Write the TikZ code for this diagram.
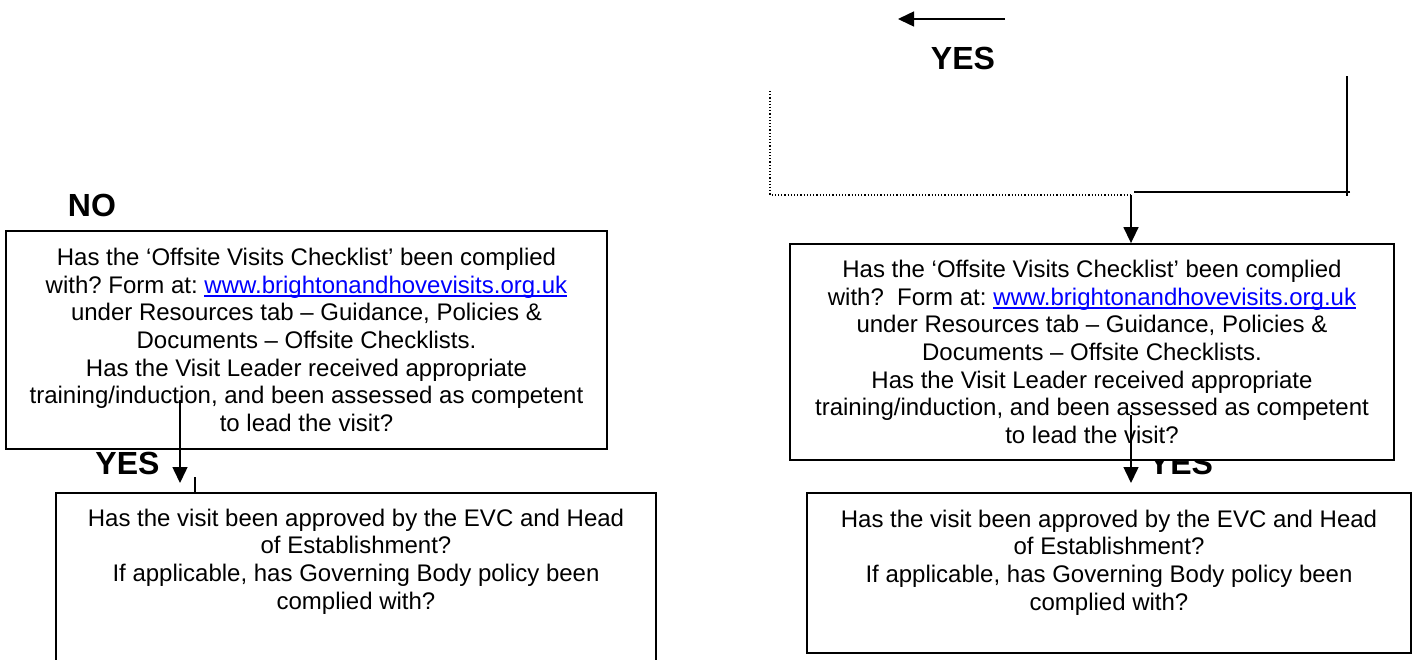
\documentclass[tikz,border=0pt]{standalone}
\usepackage{fontspec}
\setmainfont{Liberation Sans}
\usepackage{tikz}
\usetikzlibrary{arrows.meta, positioning, calc}
\usepackage{xcolor}
\definecolor{link-blue}{RGB}{0,0,255}
\newcommand{\weblink}[1]{\textcolor{link-blue}{\sbox0{#1}\rlap{\rule[-1.6pt]{\wd0}{0.6pt}}\usebox0}}
\frenchspacing

\tikzset{
	qbox/.style={draw, line width=0.9pt, fill=white, align=center, inner sep=0pt, font=\fontsize{12}{13.8}\selectfont},
	answer/.style={font=\bfseries\fontsize{16}{19}\selectfont},
	flow/.style={-{Triangle[length=8pt,width=7.5pt]}, line width=0.75pt},
}

\begin{document}
\begin{tikzpicture}[x=0.5pt, y=-0.5pt]
					\useasboundingbox (0,0) rectangle (1414,659);
					
					\node[answer] at (1181,463.5) (yesR) {YES};
					
					\node[qbox, minimum width=300.5pt, minimum height=109pt] at (306.5,340) (checkL) {Has the ‘Offsite Visits Checklist’ been complied\\ with? Form at: \weblink{www.brightonandhovevisits.org.uk}\\ under Resources tab – Guidance, Policies \&\\ Documents – Offsite Checklists.\\ Has the Visit Leader received appropriate\\ training/induction, and been assessed as competent\\ to lead the visit?};
					\node[qbox, minimum width=302pt, minimum height=108pt] at (1092,352) (checkR) {Has the ‘Offsite Visits Checklist’ been complied\\ with?\ \ Form at: \weblink{www.brightonandhovevisits.org.uk}\\ under Resources tab – Guidance, Policies \&\\ Documents – Offsite Checklists.\\ Has the Visit Leader received appropriate\\ training/induction, and been assessed as competent\\ to lead the visit?};
					
					\node[qbox, minimum width=300pt, minimum height=95.75pt] at (356,588.75) (approvalL) {Has the visit been approved by the EVC and Head\\ of Establishment?\\ If applicable, has Governing Body policy been\\ complied with?\\ \strut\\[-2pt] \strut};
					\node[qbox, minimum width=302pt, minimum height=80pt] at (1109,573) (approvalR) {Has the visit been approved by the EVC and Head\\ of Establishment?\\ If applicable, has Governing Body policy been\\ complied with?\\[-5pt] \strut};
					
					\node[answer] at (92,205.5) (noL) {NO};
					\node[answer] at (127.5,463.5) (yesL) {YES};
					\node[answer] at (963,58) (yesTop) {YES};
					
					% loop back at the top
					\coordinate (backstart) at (1005,19);
					\coordinate (backend) at (898,19);
					\draw[flow] (backstart) -- (backend);
					
					\coordinate (dottop) at (770,91);
					\coordinate (dotcorner) at (770,195);
					\coordinate (joint) at (1131,195);
					\draw[densely dotted, line width=0.6pt] (dottop) -- (dotcorner) -- (joint);
					
					\coordinate (sidetop) at (1347,76);
					\coordinate (sidebottom) at (1347,196);
					\coordinate (sideright) at (1350,192);
					\coordinate (sideleft) at (1134,192);
					\draw[line width=0.75pt] (sidetop) -- (sidebottom);
					\draw[line width=0.75pt] (sideright) -- (sideleft);
					\draw[flow] (joint) -- (joint |- checkR.north);
					
					% yes arrows between the boxes
					\coordinate (ltail) at (180,400);
					\coordinate (ltip) at (180,483);
					\draw[flow] (ltail) -- (ltip);
					\coordinate (ltick) at (195,477);
					\draw[line width=0.75pt] (ltick) -- (ltick |- approvalL.north);
					
					\coordinate (rtail) at (1131,415);
					\coordinate (rtip) at (1131,483);
					\draw[flow] (rtail) -- (rtip);
				\end{tikzpicture}
\end{document}
